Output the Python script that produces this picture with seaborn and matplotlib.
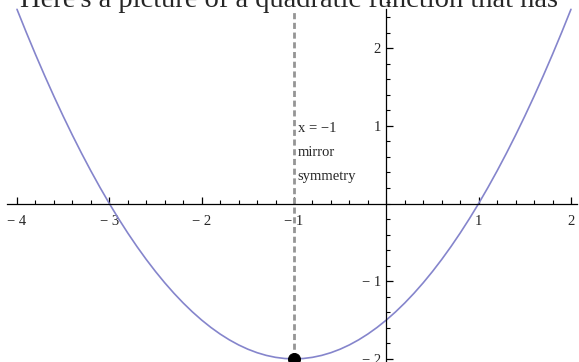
import pandas as pd
import seaborn as sns
import matplotlib.pyplot as plt
from matplotlib.ticker import MultipleLocator, FixedLocator

x_vals = [-4.0, -3.9, -3.8, -3.7, -3.6, -3.5, -3.4, -3.3, -3.2, -3.1, -3.0,
          -2.9, -2.8, -2.7, -2.6, -2.5, -2.4, -2.3, -2.2, -2.1, -2.0,
          -1.9, -1.8, -1.7, -1.6, -1.5, -1.4, -1.3, -1.2, -1.1, -1.0,
          -0.9, -0.8, -0.7, -0.6, -0.5, -0.4, -0.3, -0.2, -0.1, 0.0,
          0.1, 0.2, 0.3, 0.4, 0.5, 0.6, 0.7, 0.8, 0.9, 1.0,
          1.1, 1.2, 1.3, 1.4, 1.5, 1.6, 1.7, 1.8, 1.9, 2.0]
y_vals = [2.5, 2.205, 1.92, 1.645, 1.38, 1.125, 0.88, 0.645, 0.42, 0.205, 0.0,
          -0.195, -0.38, -0.555, -0.72, -0.875, -1.02, -1.155, -1.28, -1.395, -1.5,
          -1.595, -1.68, -1.755, -1.82, -1.875, -1.92, -1.955, -1.98, -1.995, -2.0,
          -1.995, -1.98, -1.955, -1.92, -1.875, -1.82, -1.755, -1.68, -1.595, -1.5,
          -1.395, -1.28, -1.155, -1.02, -0.875, -0.72, -0.555, -0.38, -0.195, 0.0,
          0.205, 0.42, 0.645, 0.88, 1.125, 1.38, 1.645, 1.92, 2.205, 2.5]
vertex_x = [-1.0]
vertex_y = [-2.0]
axis_of_symmetry = -1.0
x_ticks = [-4, -3, -2, -1, 1, 2]
y_ticks = [-2, -1, 1, 2]
note_lines = ['x = \u22121', 'mirror', 'symmetry']
caption = "Here's a picture of a quadratic function that has"

sns.set_style('white')
plt.rcParams['font.family'] = ['Liberation Serif', 'DejaVu Serif']

fig = plt.figure(figsize=(5.79, 3.62), dpi=100)
ax = fig.add_axes([0, 0, 1, 1])

curve = pd.DataFrame({'x': x_vals, 'y': y_vals})
sns.lineplot(data=curve, x='x', y='y', sort=False, color='#8585cc', linewidth=1.2, ax=ax)

ax.plot([axis_of_symmetry, axis_of_symmetry], [vertex_y[0], 2.5], color='#959595',
        linewidth=2.0, linestyle=(0, (2.2, 1.3)), zorder=1)

sns.scatterplot(x=vertex_x, y=vertex_y, color='black', s=75, edgecolor='black',
                zorder=5, clip_on=False, ax=ax)

ax.set_xlim(-4.184, 2.087)
ax.set_ylim(-2.04, 2.62)

for spine in ['top', 'right']:
    ax.spines[spine].set_visible(False)
ax.spines['left'].set_position(('data', 0))
ax.spines['bottom'].set_position(('data', 0))
ax.spines['bottom'].set_bounds(-4.11, 2.06)
ax.spines['left'].set_bounds(-2.05, 2.5)
for spine in ['left', 'bottom']:
    ax.spines[spine].set_color('black')
    ax.spines[spine].set_linewidth(0.9)

ax.xaxis.set_major_locator(FixedLocator(x_ticks))
ax.yaxis.set_major_locator(FixedLocator(y_ticks))
ax.xaxis.set_minor_locator(MultipleLocator(0.2))
ax.yaxis.set_minor_locator(MultipleLocator(0.2))
ax.set_xticklabels([str(t).replace('-', '\u2212 ') for t in x_ticks])
ax.set_yticklabels([str(t).replace('-', '\u2212 ') for t in y_ticks])
ax.tick_params(which='both', direction='in', color='black', width=0.8, labelsize=10.5,
               bottom=True, left=True)
ax.tick_params(which='major', length=5, width=0.9)
ax.tick_params(which='minor', length=3)
ax.tick_params(axis='x', which='major', pad=8)
ax.tick_params(axis='y', which='major', pad=4)
ax.set_xlabel('')
ax.set_ylabel('')

for i, line in enumerate(note_lines):
    ax.text(-0.96, 0.97 - 0.31 * i, line, fontsize=10.5, va='center', ha='left')

fig.text(0.5, 1 - 7 / 362, caption, fontsize=20.5, ha='center', va='baseline')

fig.savefig('out.png', dpi=100)
